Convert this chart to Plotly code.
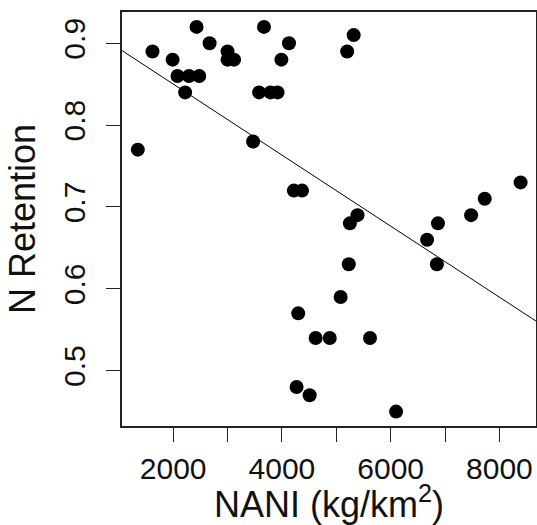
import plotly.graph_objects as go

# Data
nani = [1350, 1620, 1990, 2080, 2220, 2290, 2430, 2480, 2670, 3000,
        3000, 3120, 3470, 3580, 3670, 3790, 3920, 3990, 4130, 4220,
        4370, 4300, 4270, 4510, 4620, 4880, 5080, 5200, 5320, 5230,
        5250, 5390, 5620, 6100, 6670, 6850, 6870, 7480, 7730, 8390]
n_retention = [0.77, 0.89, 0.88, 0.86, 0.84, 0.86, 0.92, 0.86, 0.90, 0.89,
               0.88, 0.88, 0.78, 0.84, 0.92, 0.84, 0.84, 0.88, 0.90, 0.72,
               0.72, 0.57, 0.48, 0.47, 0.54, 0.54, 0.59, 0.89, 0.91, 0.63,
               0.68, 0.69, 0.54, 0.45, 0.66, 0.63, 0.68, 0.69, 0.71, 0.73]

# Fitted line (abline)
LINE_INTERCEPT = 0.937
LINE_SLOPE = -4.34e-5

x_ticks = [2000, 4000, 6000, 8000]
x_tick_labels = ["2000", "4000", "6000", "8000"]
x_minor_ticks = [3000, 5000, 7000]
y_ticks = [0.5, 0.6, 0.7, 0.8, 0.9]
y_tick_labels = ["0.5", "0.6", "0.7", "0.8", "0.9"]

X_RANGE = [1059, 8673]
Y_RANGE = [0.4324, 0.9382]

FONT = "Liberation Sans, Arial, sans-serif"

fig = go.Figure()
fig.add_trace(go.Scatter(
    x=nani, y=n_retention, mode="markers",
    marker=dict(color="black", size=14, line=dict(width=0)),
    showlegend=False, hoverinfo="skip"))

line_x = X_RANGE
line_y = [LINE_INTERCEPT + LINE_SLOPE * v for v in line_x]
fig.add_trace(go.Scatter(
    x=line_x, y=line_y, mode="lines",
    line=dict(color="black", width=1),
    showlegend=False, hoverinfo="skip"))

fig.update_layout(
    width=537, height=525,
    margin=dict(l=122, r=1, t=12, b=99),
    paper_bgcolor="white", plot_bgcolor="white",
    font=dict(family=FONT, color="black"),
    xaxis=dict(
        range=X_RANGE, showgrid=False, zeroline=False,
        showline=True, mirror=True, linecolor="#222", linewidth=1.5,
        tickmode="array", tickvals=x_ticks, ticktext=x_tick_labels,
        ticks="outside", ticklen=14, tickwidth=1.3, tickcolor="#222",
        minor=dict(tickvals=x_minor_ticks, ticks="outside", ticklen=14,
                   tickwidth=1.3, tickcolor="#222", showgrid=False),
        tickfont=dict(size=30, family=FONT, color="#111"),
        ticklabelstandoff=1,
        title=dict(text="NANI (kg/km<sup>2</sup>)",
                   font=dict(size=36, family=FONT, color="#111"),
                   standoff=2),
        automargin=False,
    ),
    yaxis=dict(
        range=Y_RANGE, showgrid=False, zeroline=False,
        showline=True, mirror=True, linecolor="#222", linewidth=1.5,
        tickmode="array", tickvals=y_ticks, ticktext=y_tick_labels,
        ticks="outside", ticklen=14, tickwidth=1.3, tickcolor="#222",
        tickangle=-90, ticklabelstandoff=9,
        tickfont=dict(size=30, family=FONT, color="#111"),
        title=dict(text="N Retention",
                   font=dict(size=36, family=FONT, color="#111"),
                   standoff=12),
        automargin=False,
    ),
)

fig.write_html("out.html")
